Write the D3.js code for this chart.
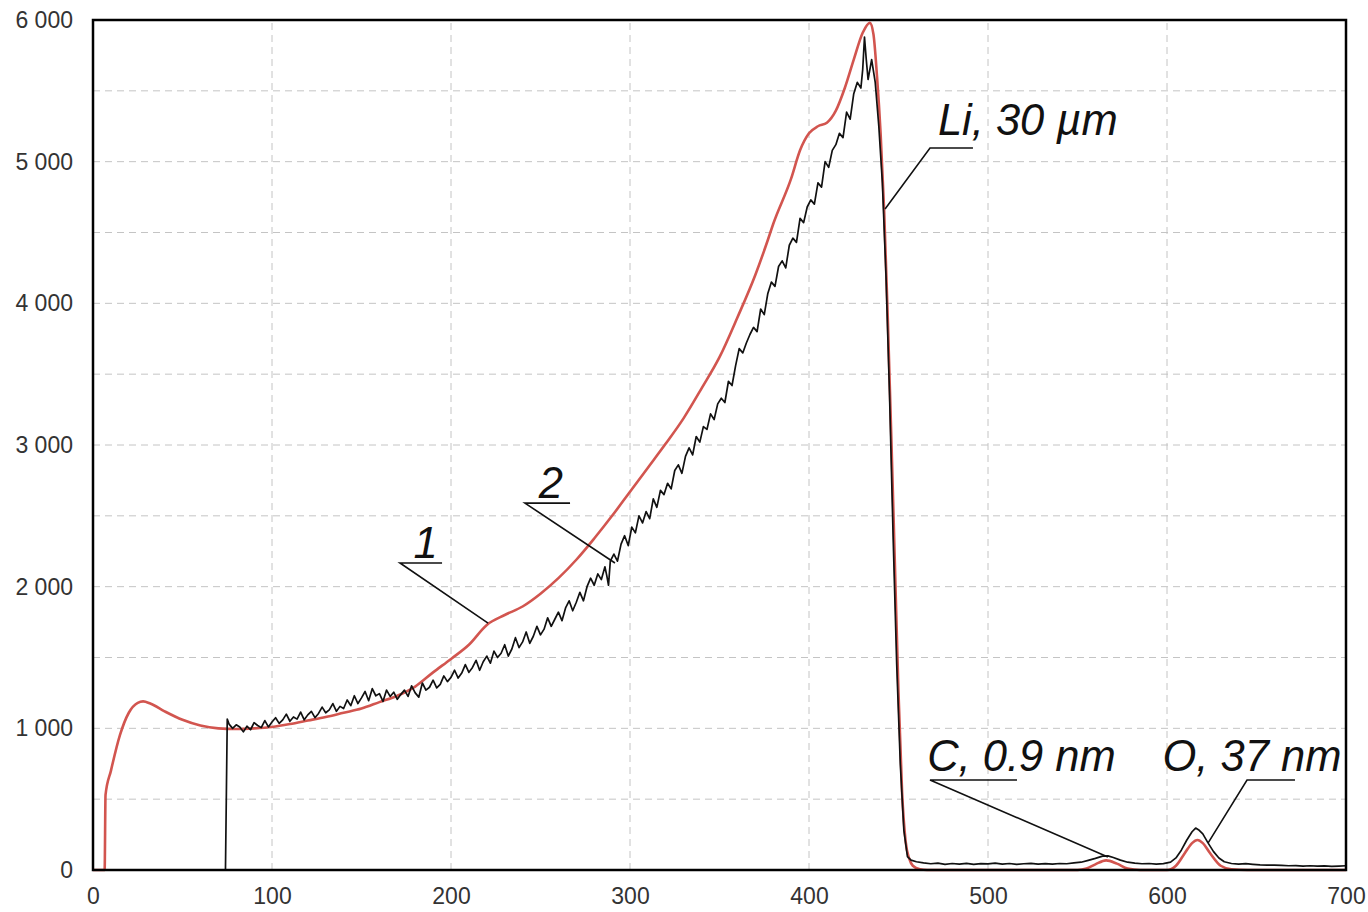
<!DOCTYPE html>
<html lang="en">
<head>
    <meta charset="UTF-8">
    <title>Spectrum</title>
    <script src="https://d3js.org/d3.v7.min.js"></script>
    <style>
        body { margin: 0; background: #fff; }
        .tick-label { font: 23px "Liberation Sans", Arial, sans-serif; fill: #333; }
        .note { font: italic 43.5px "Liberation Sans", Arial, sans-serif; fill: #111; }
    </style>
</head>
<body>
<svg id="chart"></svg>
<script>
    // x ticks / y ticks
    const xTicks = [0, 100, 200, 300, 400, 500, 600, 700];
    const yTicks = [0, 1000, 2000, 3000, 4000, 5000, 6000];

    // curve 1 - simulated spectrum (red)
    const simCurve = [
        [0, 0], [6.5, 0], [7, 530], [10, 700], [15, 950], [20, 1110], [25, 1180], [28, 1190],
        [32, 1175], [40, 1120], [50, 1060], [60, 1020], [70, 1000], [80, 995], [90, 1000],
        [100, 1010], [110, 1030], [120, 1055], [130, 1080], [140, 1110], [150, 1140], [160, 1185],
        [170, 1230], [180, 1295], [190, 1395], [200, 1490], [210, 1590], [220, 1730], [230, 1800],
        [240, 1860], [250, 1950], [260, 2060], [270, 2190], [280, 2340], [290, 2500], [300, 2670],
        [310, 2840], [320, 3010], [330, 3190], [340, 3400], [350, 3620], [360, 3900], [370, 4200],
        [377, 4447], [380, 4560], [390, 4880], [395, 5080], [400, 5200], [405, 5250], [410, 5275],
        [415, 5360], [420, 5520], [425, 5720], [430, 5910], [434, 5980], [436, 5900], [438, 5600],
        [440, 5200], [442, 4650], [444, 3900], [446, 3050], [448, 2150], [450, 1250], [452, 550],
        [454, 200], [456, 80], [458, 30], [462, 5], [466, 0], [550, 0], [555, 10], [560, 40],
        [566, 68], [572, 45], [578, 10], [585, 0], [600, 0], [605, 30], [610, 120], [614, 190],
        [617, 212], [620, 190], [624, 120], [630, 30], [636, 5], [645, 0], [700, 0]
    ];

    // curve 2 - measured spectrum (black)
    const measCurve = [
        [74, 0], [75, 1065], [76, 1030], [78, 1000], [80, 1025], [82, 1010], [84, 975], [86, 1015],
        [88, 990], [90, 1040], [92, 1020], [94, 1005], [96, 1055], [98, 1010], [100, 1045],
        [102, 1075], [104, 1035], [106, 1060], [108, 1100], [110, 1050], [112, 1080], [114, 1065],
        [116, 1115], [118, 1060], [120, 1095], [122, 1120], [124, 1075], [126, 1105], [128, 1150],
        [130, 1110], [132, 1130], [134, 1175], [136, 1120], [138, 1155], [140, 1140], [142, 1200],
        [144, 1160], [146, 1230], [148, 1175], [150, 1215], [152, 1260], [154, 1195], [156, 1280],
        [158, 1230], [160, 1245], [162, 1190], [164, 1270], [166, 1225], [168, 1255], [170, 1205],
        [172, 1240], [174, 1270], [176, 1225], [178, 1300], [180, 1250], [182, 1220], [184, 1320],
        [186, 1270], [188, 1290], [190, 1340], [192, 1285], [194, 1310], [196, 1370], [198, 1330],
        [200, 1360], [202, 1410], [204, 1355], [206, 1390], [208, 1450], [210, 1395], [212, 1430],
        [214, 1480], [216, 1410], [218, 1470], [220, 1510], [222, 1460], [224, 1545], [226, 1500],
        [228, 1530], [230, 1590], [232, 1510], [234, 1560], [236, 1640], [238, 1570], [240, 1610],
        [242, 1680], [244, 1600], [246, 1650], [248, 1720], [250, 1660], [252, 1700], [254, 1780],
        [256, 1720], [258, 1770], [260, 1820], [262, 1760], [264, 1850], [266, 1900], [268, 1830],
        [270, 1890], [272, 1960], [274, 1900], [276, 2000], [278, 2060], [280, 2010], [282, 2090],
        [284, 2050], [286, 2140], [287, 2080], [288, 2010], [289, 2180], [291, 2230], [293, 2180],
        [295, 2300], [297, 2360], [299, 2290], [301, 2420], [303, 2380], [305, 2500], [307, 2450],
        [309, 2530], [311, 2480], [313, 2620], [315, 2560], [317, 2680], [319, 2650], [321, 2730],
        [323, 2690], [325, 2820], [327, 2860], [329, 2800], [331, 2920], [333, 2980], [335, 2930],
        [337, 3060], [339, 3020], [341, 3130], [343, 3110], [345, 3220], [347, 3180], [349, 3290],
        [351, 3330], [353, 3300], [355, 3450], [357, 3420], [359, 3560], [361, 3680], [363, 3650],
        [365, 3720], [367, 3780], [369, 3830], [371, 3800], [373, 3960], [375, 3920], [377, 4070],
        [379, 4150], [381, 4120], [383, 4260], [385, 4300], [387, 4250], [389, 4410], [391, 4460],
        [393, 4430], [395, 4600], [397, 4570], [399, 4680], [401, 4730], [403, 4700], [405, 4850],
        [407, 4820], [409, 5000], [411, 4960], [413, 5080], [415, 5120], [417, 5200], [419, 5170],
        [421, 5350], [423, 5300], [425, 5480], [427, 5560], [429, 5520], [430, 5650], [431, 5880],
        [432, 5720], [433, 5580], [435, 5720], [437, 5560], [439, 5250], [441, 4850], [443, 4200],
        [445, 3350], [447, 2350], [449, 1450], [451, 750], [453, 280], [455, 95], [457, 70],
        [460, 58], [464, 50], [468, 44], [472, 48], [476, 40], [480, 46], [484, 42], [488, 47],
        [492, 40], [496, 45], [500, 43], [504, 48], [508, 41], [512, 46], [516, 40], [520, 44],
        [524, 47], [528, 41], [532, 45], [536, 42], [540, 46], [544, 44], [548, 50], [552, 55],
        [556, 68], [560, 82], [564, 98], [567, 100], [570, 88], [574, 70], [578, 55], [582, 48],
        [586, 44], [590, 46], [594, 42], [598, 45], [602, 55], [605, 85], [608, 140], [611, 210],
        [614, 270], [616, 296], [618, 280], [620, 255], [623, 190], [626, 130], [629, 85], [632, 58],
        [636, 46], [640, 42], [644, 45], [648, 40], [652, 36], [656, 34], [660, 35], [664, 32],
        [668, 30], [672, 31], [676, 28], [680, 30], [684, 27], [688, 29], [692, 26], [696, 28],
        [700, 30]
    ];

    // labels with leader lines (data units)
    const notes = [
        {text: "Li, 30 µm", tx: 472, ty: 5185, ux1: 467.6, ux2: 491.6, uy: 5096, ex: 442.5, ey: 4666},
        {text: "C, 0.9 nm", tx: 466, ty: 700, ux1: 467.6, ux2: 516.2, uy: 635, ex: 567, ey: 92},
        {text: "O, 37 nm", tx: 597.5, ty: 700, ux1: 644.7, ux2: 671.5, uy: 635, ex: 622.9, ey: 190},
        {text: "1", tx: 179, ty: 2205, ux1: 171.5, ux2: 195, uy: 2167, ex: 220.7, ey: 1743},
        {text: "2", tx: 249, ty: 2625, ux1: 241.3, ux2: 266.5, uy: 2590, ex: 291.6, ey: 2167}
    ];

    const width = 1368, height = 912;
    const margin = {top: 20, right: 22, bottom: 42, left: 93};

    const svg = d3.select("#chart")
        .attr("width", width)
        .attr("height", height);

    const x = d3.scaleLinear().domain([0, 700]).range([margin.left, width - margin.right]);
    const y = d3.scaleLinear().domain([0, 6000]).range([height - margin.bottom, margin.top]);

    // grid
    const grid = svg.append("g")
        .attr("stroke", "#c4c4c4")
        .attr("stroke-width", 1)
        .attr("stroke-dasharray", "7,5");
    grid.selectAll(".vg")
        .data(d3.range(100, 700, 100))
        .enter().append("line")
        .attr("x1", d => x(d)).attr("x2", d => x(d))
        .attr("y1", y(0)).attr("y2", y(6000));
    grid.selectAll(".hg")
        .data(d3.range(500, 6000, 500))
        .enter().append("line")
        .attr("x1", x(0)).attr("x2", x(700))
        .attr("y1", d => y(d)).attr("y2", d => y(d));

    // axes (labels only)
    const fmt = d => d3.format(",")(d).replace(",", " ");
    const xAxis = svg.append("g")
        .attr("transform", `translate(0,${y(0)})`)
        .call(d3.axisBottom(x).tickValues(xTicks).tickSize(0).tickPadding(18));
    const yAxis = svg.append("g")
        .attr("transform", `translate(${x(0)},0)`)
        .call(d3.axisLeft(y).tickValues(yTicks).tickSize(0).tickPadding(20).tickFormat(fmt));
    [xAxis, yAxis].forEach(a => {
        a.select(".domain").remove();
        a.selectAll("text").attr("class", "tick-label").attr("font-size", null).attr("font-family", null);
    });

    // curves
    svg.append("path")
        .datum(simCurve)
        .attr("fill", "none")
        .attr("stroke", "#d2554f")
        .attr("stroke-width", 2.6)
        .attr("stroke-linejoin", "round")
        .attr("d", d3.line().x(d => x(d[0])).y(d => y(d[1])).curve(d3.curveMonotoneX));
    svg.append("path")
        .datum(measCurve)
        .attr("fill", "none")
        .attr("stroke", "#111")
        .attr("stroke-width", 1.7)
        .attr("stroke-linejoin", "round")
        .attr("d", d3.line().x(d => x(d[0])).y(d => y(d[1])));

    // frame
    svg.append("rect")
        .attr("x", x(0)).attr("y", y(6000))
        .attr("width", x(700) - x(0)).attr("height", y(0) - y(6000))
        .attr("fill", "none")
        .attr("stroke", "#000")
        .attr("stroke-width", 2.5);

    // annotations
    const ng = svg.selectAll(".noteg")
        .data(notes)
        .enter().append("g");
    ng.append("polyline")
        .attr("fill", "none")
        .attr("stroke", "#111")
        .attr("stroke-width", 1.6)
        .attr("points", d => [[x(d.ux2), y(d.uy)], [x(d.ux1), y(d.uy)], [x(d.ex), y(d.ey)]]
            .map(p => p.join(",")).join(" "));
    ng.append("text")
        .attr("class", "note")
        .attr("x", d => x(d.tx))
        .attr("y", d => y(d.ty))
        .text(d => d.text);
</script>
</body>
</html>
